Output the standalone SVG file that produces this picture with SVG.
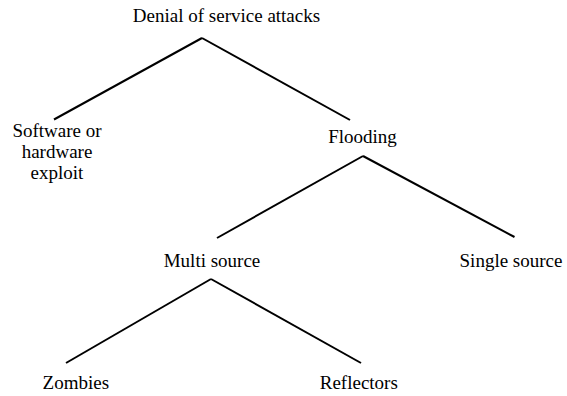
<svg xmlns="http://www.w3.org/2000/svg" width="567" height="396" viewBox="0 0 567 396">
<style>
text{font-family:"Liberation Serif","Times New Roman",serif;font-size:19px;fill:#000;text-anchor:middle}
line{stroke:#000;stroke-width:2;stroke-linecap:butt}
</style>
<rect width="567" height="396" fill="#fff"/>
<g id="connectors">
<line x1="202" y1="38" x2="54" y2="119.5"/>
<line x1="202" y1="38" x2="350" y2="120"/>
<line x1="363" y1="156" x2="217" y2="238"/>
<line x1="363" y1="156" x2="514.5" y2="237"/>
<line x1="211" y1="279" x2="66" y2="363"/>
<line x1="211" y1="279" x2="361" y2="363"/>
</g>
<g id="root"><text x="226.5" y="22">Denial of service attacks</text></g>
<g id="software"><text x="57" y="137">Software or</text><text x="57" y="158">hardware</text><text x="57" y="179">exploit</text></g>
<g id="flooding"><text x="362.5" y="143">Flooding</text></g>
<g id="multi"><text x="212" y="267">Multi source</text></g>
<g id="single"><text x="511" y="267">Single source</text></g>
<g id="zombies"><text x="75.8" y="389">Zombies</text></g>
<g id="reflectors"><text x="358.8" y="389">Reflectors</text></g>
</svg>
